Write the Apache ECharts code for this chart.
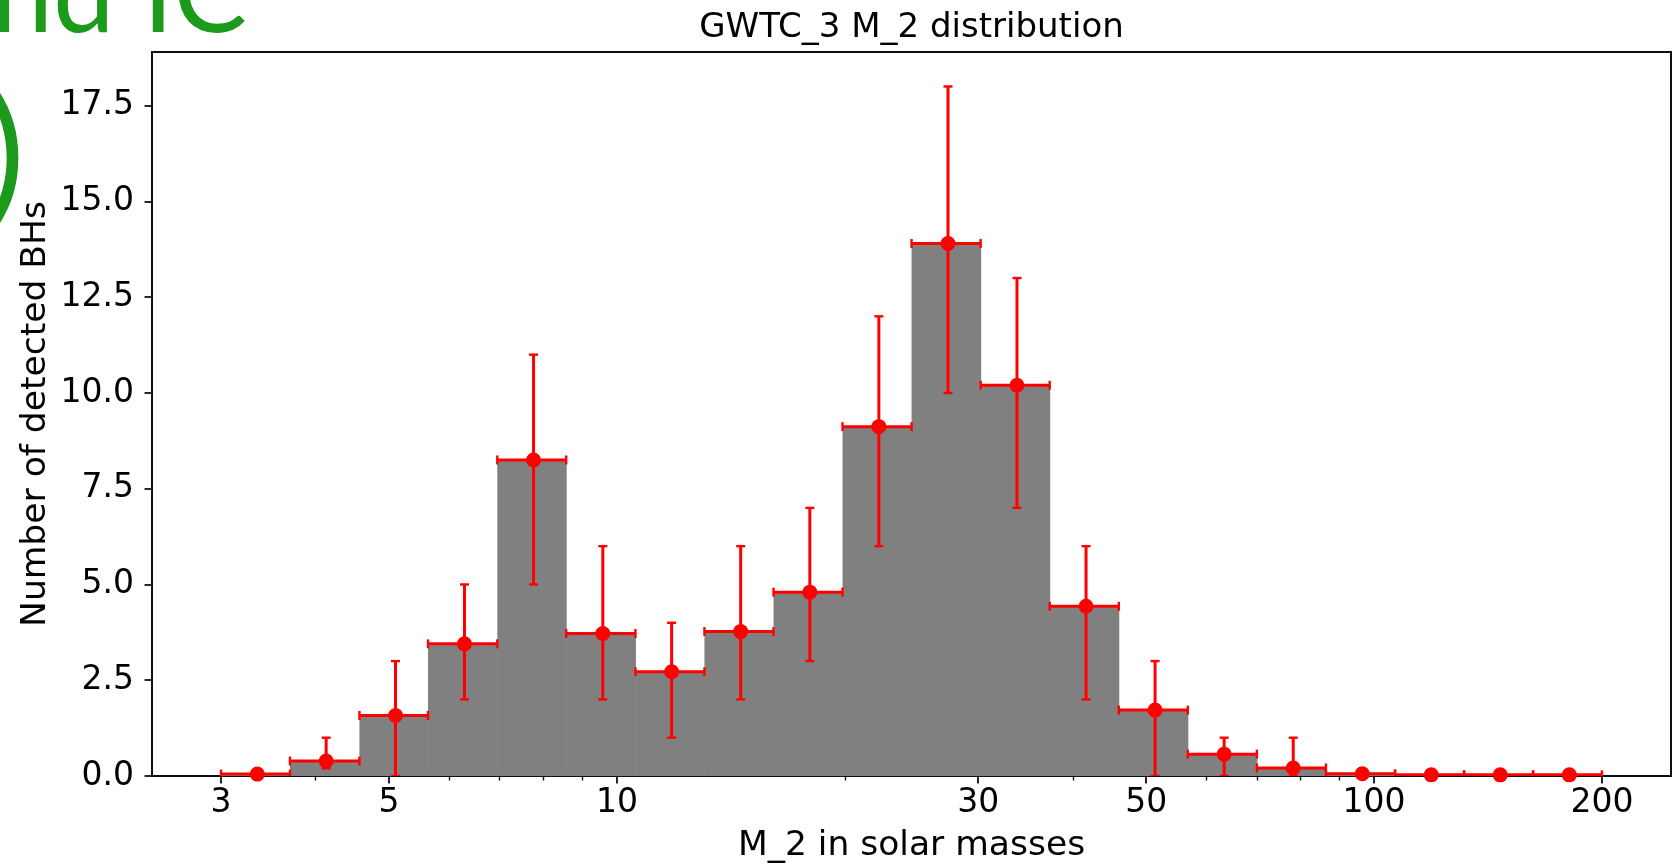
<!DOCTYPE html>
<html>
<head>
<meta charset="utf-8">
<script src="https://cdn.jsdelivr.net/npm/echarts@6/dist/echarts.min.js"></script>
<style>
html,body{margin:0;padding:0;background:#fff;}
#chart{width:1677px;height:867px;}
</style>
</head>
<body>
<div id="chart"></div>
<script>
// ---- data ----
const binEdges = [3.00, 3.70, 4.57, 5.63, 6.95, 8.57, 10.58, 13.05, 16.10, 19.86, 24.50, 30.23, 37.29, 46.01, 56.76, 70.03, 86.39, 106.6, 131.5, 162.2, 200.0];
const binCenters = [3.35, 4.13, 5.10, 6.29, 7.76, 9.58, 11.81, 14.57, 17.98, 22.18, 27.37, 33.76, 41.65, 51.38, 63.39, 78.21, 96.49, 119.0, 146.8, 181.1];
const counts = [0.05, 0.39, 1.58, 3.45, 8.25, 3.72, 2.72, 3.77, 4.80, 9.12, 13.90, 10.20, 4.43, 1.72, 0.57, 0.21, 0.06, 0.03, 0.03, 0.03];
const lowerBound = [0.05, 0.20, 0, 2, 5, 2, 1, 2, 3, 6, 10, 7, 2, 0, 0, 0, 0.06, 0.03, 0.03, 0.03];
const upperBound = [0.05, 1, 3, 5, 11, 6, 4, 6, 7, 12, 18, 13, 6, 3, 1, 1, 0.06, 0.03, 0.03, 0.03];
const xMajorTicks = [3, 5, 10, 30, 50, 100, 200];
const xMinorTicks = [4, 6, 7, 8, 9, 20, 40, 60, 70, 80, 90];
const yTicks = [0, 2.5, 5, 7.5, 10, 12.5, 15, 17.5];
const titleText = 'GWTC_3 M_2 distribution';
const xLabel = 'M_2 in solar masses';
const yLabel = 'Number of detected BHs';

const L = Math.log10;
const xMin = L(3) - 0.05 * (L(200) - L(3));
const xMax = L(200) + 0.05 * (L(200) - L(3));
const yMax = 18.9;

const barData = counts.map((c, i) => [L(binEdges[i]), L(binEdges[i + 1]), c]);
const errData = counts.map((c, i) => [L(binEdges[i]), L(binEdges[i + 1]), L(binCenters[i]), c, lowerBound[i], upperBound[i]]);
const dotData = counts.map((c, i) => [L(binCenters[i]), c]);

const FONT = 'DejaVu Sans';
const RED = '#ff0000';
const CAP = 4.5;

const chart = echarts.init(document.getElementById('chart'), null, {renderer: 'canvas'});
const baseAxisX = {
  type: 'value', min: xMin, max: xMax, position: 'bottom',
  splitLine: {show: false}
};
chart.setOption({
  animation: false,
  backgroundColor: '#ffffff',
  grid: {left: 152, right: 6, top: 52, bottom: 91, show: true, borderColor: '#111', borderWidth: 2, backgroundColor: 'transparent'},
  xAxis: [
    Object.assign({}, baseAxisX, {
      axisLine: {show: true, onZero: false, lineStyle: {color: '#111', width: 2}},
      axisTick: {show: true, length: 7.5, lineStyle: {color: '#111', width: 1.8}, customValues: xMajorTicks.map(L)},
      axisLabel: {show: true, margin: 11, color: '#000', fontFamily: FONT, fontSize: 33,
        customValues: xMajorTicks.map(L),
        formatter: v => String(Math.round(Math.pow(10, v)))}
    }),
    Object.assign({}, baseAxisX, {
      axisLine: {show: false},
      axisTick: {show: true, length: 4.5, lineStyle: {color: '#111', width: 1.4}, customValues: xMinorTicks.map(L)},
      axisLabel: {show: false}
    })
  ],
  yAxis: {
    type: 'value', min: 0, max: yMax,
    splitLine: {show: false},
    axisLine: {show: true, onZero: false, lineStyle: {color: '#111', width: 2}},
    axisTick: {show: true, length: 7.5, lineStyle: {color: '#111', width: 1.8}, customValues: yTicks},
    axisLabel: {show: true, margin: 18, color: '#000', fontFamily: FONT, fontSize: 33,
      customValues: yTicks, formatter: v => v.toFixed(1)}
  },
  graphic: [
    {type: 'text', x: 911.5, y: 28.2, style: {text: titleText, fill: '#000', font: '34px "DejaVu Sans"', align: 'center', verticalAlign: 'middle'}},
    {type: 'text', x: 911.5, y: 846.4, style: {text: xLabel, fill: '#000', font: '34.5px "DejaVu Sans"', align: 'center', verticalAlign: 'middle'}},
    {type: 'text', x: 36.4, y: 414, rotation: Math.PI / 2, style: {text: yLabel, fill: '#000', font: '34.5px "DejaVu Sans"', align: 'center', verticalAlign: 'middle'}},
    {type: 'text', x: 247, y: 52, style: {text: 'and IC', fill: '#1c9a1c', font: '400 110px Lato', align: 'right', verticalAlign: 'bottom'}},
    {type: 'text', x: 25, y: 232, style: {text: ')', fill: '#1c9a1c', font: '400 150px Lato', align: 'right', verticalAlign: 'bottom'}}
  ],
  series: [
    {
      type: 'custom', name: 'hist', xAxisIndex: 0, z: 2,
      encode: {x: [0, 1], y: 2},
      data: barData,
      renderItem: function (params, api) {
        const p0 = api.coord([api.value(0), 0]);
        const p1 = api.coord([api.value(1), api.value(2)]);
        return {type: 'rect', shape: {x: p0[0], y: p1[1], width: p1[0] - p0[0] + 0.5, height: p0[1] - p1[1]},
          style: {fill: '#808080'}};
      }
    },
    {
      type: 'custom', name: 'err', xAxisIndex: 0, z: 3, clip: true,
      encode: {x: [0, 1, 2], y: [3, 4, 5]},
      data: errData,
      renderItem: function (params, api) {
        const lo = api.value(0), hi = api.value(1), c = api.value(2), v = api.value(3), yl = api.value(4), yu = api.value(5);
        const pl = api.coord([lo, v]);
        const ph = api.coord([hi, v]);
        const pc = api.coord([c, v]);
        const pu = api.coord([c, yu]);
        const pd = api.coord([c, yl]);
        const st = {stroke: RED, lineWidth: 3, fill: null};
        const stc = {stroke: RED, lineWidth: 2.4, fill: null};
        const ch = [
          {type: 'line', shape: {x1: pl[0], y1: pl[1], x2: ph[0], y2: ph[1]}, style: st},
          {type: 'line', shape: {x1: pl[0], y1: pl[1] - CAP, x2: pl[0], y2: pl[1] + CAP}, style: stc},
          {type: 'line', shape: {x1: ph[0], y1: ph[1] - CAP, x2: ph[0], y2: ph[1] + CAP}, style: stc}
        ];
        if (yu > yl) {
          ch.push({type: 'line', shape: {x1: pc[0], y1: pd[1], x2: pc[0], y2: pu[1]}, style: st});
          ch.push({type: 'line', shape: {x1: pc[0] - CAP, y1: pu[1], x2: pc[0] + CAP, y2: pu[1]}, style: stc});
          ch.push({type: 'line', shape: {x1: pc[0] - CAP, y1: pd[1], x2: pc[0] + CAP, y2: pd[1]}, style: stc});
        }
        return {type: 'group', children: ch};
      }
    },
    {
      type: 'scatter', name: 'points', xAxisIndex: 0, z: 4,
      data: dotData, symbol: 'circle', symbolSize: 15,
      itemStyle: {color: RED, opacity: 1}
    }
  ]
});
</script>
</body>
</html>
